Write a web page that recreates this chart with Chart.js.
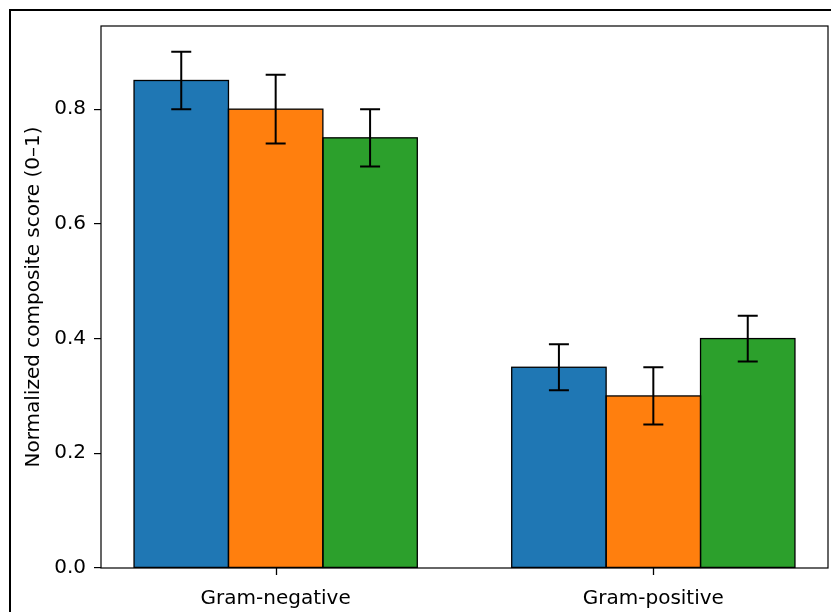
<!DOCTYPE html>
<html>
<head>
<meta charset="utf-8">
<script src="https://cdn.jsdelivr.net/npm/chart.js@4.4.1/dist/chart.umd.min.js"></script>
<style>
  html, body { margin: 0; padding: 0; background: #fff; }
  #wrap { position: relative; width: 831px; height: 612px; }
</style>
</head>
<body>
<div id="wrap"><canvas id="myChart" width="831" height="612"></canvas></div>
<script>
// groups on the x axis
var groups = ["Gram-negative", "Gram-positive"]
// three series (no legend in the picture)
var seriesNames = ["Series 1", "Series 2", "Series 3"]
var seriesColors = ["#1f77b4", "#ff7f0e", "#2ca02c"]
var series1 = [0.85, 0.35]
var series2 = [0.80, 0.30]
var series3 = [0.75, 0.40]
var err1 = [0.05, 0.04]
var err2 = [0.06, 0.05]
var err3 = [0.05, 0.04]
var yTicks = [0.0, 0.2, 0.4, 0.6, 0.8]
var yLabel = "Normalized composite score (0\u20131)"

var values = [series1, series2, series3]
var errors = [err1, err2, err3]

var fontFamily = "'DejaVu Sans', sans-serif"

var datasets = values.map(function(vals, i){
    return {
        label: seriesNames[i],
        data: vals.map(function(v, j){ return {x: j, y: v} }),
        errors: errors[i],
        backgroundColor: seriesColors[i],
        borderColor: "#000",
        borderWidth: 0,
        categoryPercentage: 0.75,
        barPercentage: 1.0
    }
})

// figure frame + axes spines + bar outlines + x tick marks
var framePlugin = {
    id: "frame",
    beforeDraw: function(chart){
        var ctx = chart.ctx
        ctx.save()
        ctx.fillStyle = "#fff"
        ctx.fillRect(0, 0, chart.width, chart.height)
        ctx.strokeStyle = "#000"
        ctx.lineWidth = 2
        ctx.beginPath()
        ctx.moveTo(10, chart.height + 5)
        ctx.lineTo(10, 10)
        ctx.lineTo(chart.width + 5, 10)
        ctx.stroke()
        ctx.restore()
    },
    afterDatasetsDraw: function(chart){
        var ctx = chart.ctx
        ctx.save()
        ctx.strokeStyle = "#000"
        ctx.lineWidth = 1.3
        // outline each bar like matplotlib's edgecolor (centered on the edge)
        chart.data.datasets.forEach(function(ds, i){
            chart.getDatasetMeta(i).data.forEach(function(bar){
                var p = bar.getProps(['x', 'y', 'base', 'width'], true)
                ctx.strokeRect(p.x - p.width / 2, p.y, p.width, p.base - p.y)
            })
        })
        var a = chart.chartArea
        ctx.lineWidth = 1.2
        ctx.strokeRect(a.left, a.top, a.right - a.left, a.bottom - a.top)
        ctx.restore()
    },
    afterDraw: function(chart){
        // x tick marks at the group positions
        var ctx = chart.ctx
        var a = chart.chartArea
        var xs = chart.scales.x
        ctx.save()
        ctx.strokeStyle = "#000"
        ctx.lineWidth = 1.3
        groups.forEach(function(g, i){
            var px = Math.round(xs.getPixelForValue(i)) + 0.5
            ctx.beginPath()
            ctx.moveTo(px, a.bottom)
            ctx.lineTo(px, a.bottom + 7)
            ctx.stroke()
        })
        ctx.restore()
    }
}

// error bars drawn from the y scale
var errorBarPlugin = {
    id: "errorBars",
    afterDatasetsDraw: function(chart){
        var ctx = chart.ctx
        var yScale = chart.scales.y
        ctx.save()
        ctx.strokeStyle = "#000"
        ctx.lineWidth = 2
        chart.data.datasets.forEach(function(ds, i){
            var meta = chart.getDatasetMeta(i)
            meta.data.forEach(function(bar, j){
                var v = ds.data[j].y
                var e = ds.errors[j]
                var yt = yScale.getPixelForValue(v + e)
                var yb = yScale.getPixelForValue(v - e)
                var x = bar.x
                ctx.beginPath()
                ctx.moveTo(x, yt); ctx.lineTo(x, yb)
                ctx.moveTo(x - 10, yt); ctx.lineTo(x + 10, yt)
                ctx.moveTo(x - 10, yb); ctx.lineTo(x + 10, yb)
                ctx.stroke()
            })
        })
        ctx.restore()
    }
}

var myChart = document.getElementById("myChart").getContext('2d')
var chart = new Chart(myChart, {
    type: 'bar',
    data: { datasets: datasets },
    plugins: [framePlugin, errorBarPlugin],
    options: {
        responsive: false,
        animation: false,
        layout: { padding: { left: 0, top: 26, right: 3, bottom: 0 } },
        plugins: {
            legend: { display: false },
            tooltip: { enabled: false }
        },
        scales: {
            x: {
                type: 'linear',
                min: -0.4625,
                max: 1.4625,
                offset: false,
                afterBuildTicks: function(scale){
                    scale.ticks = groups.map(function(g, i){ return {value: i} })
                },
                afterFit: function(scale){ scale.height = 44 },
                grid: { display: false, drawTicks: true, tickLength: 7 },
                border: { display: false },
                ticks: {
                    color: "#000",
                    padding: 12,
                    autoSkip: false,
                    maxRotation: 0,
                    font: { family: fontFamily, size: 20 },
                    callback: function(v){ return groups[v] }
                }
            },
            y: {
                min: 0,
                max: 0.945,
                afterBuildTicks: function(scale){
                    scale.ticks = yTicks.map(function(t){ return {value: t} })
                },
                afterFit: function(scale){ scale.width = 101 },
                grid: { display: true, drawOnChartArea: false, drawTicks: true, tickLength: 7, color: "#000", lineWidth: 1.2 },
                border: { display: false },
                ticks: {
                    color: "#000",
                    padding: 8,
                    font: { family: fontFamily, size: 20 },
                    callback: function(v){ return Number(v).toFixed(1) }
                },
                title: {
                    display: true,
                    text: yLabel,
                    color: "#000",
                    padding: { top: 22, bottom: 0 },
                    font: { family: fontFamily, size: 20 }
                }
            }
        }
    }
})
</script>
</body>
</html>
